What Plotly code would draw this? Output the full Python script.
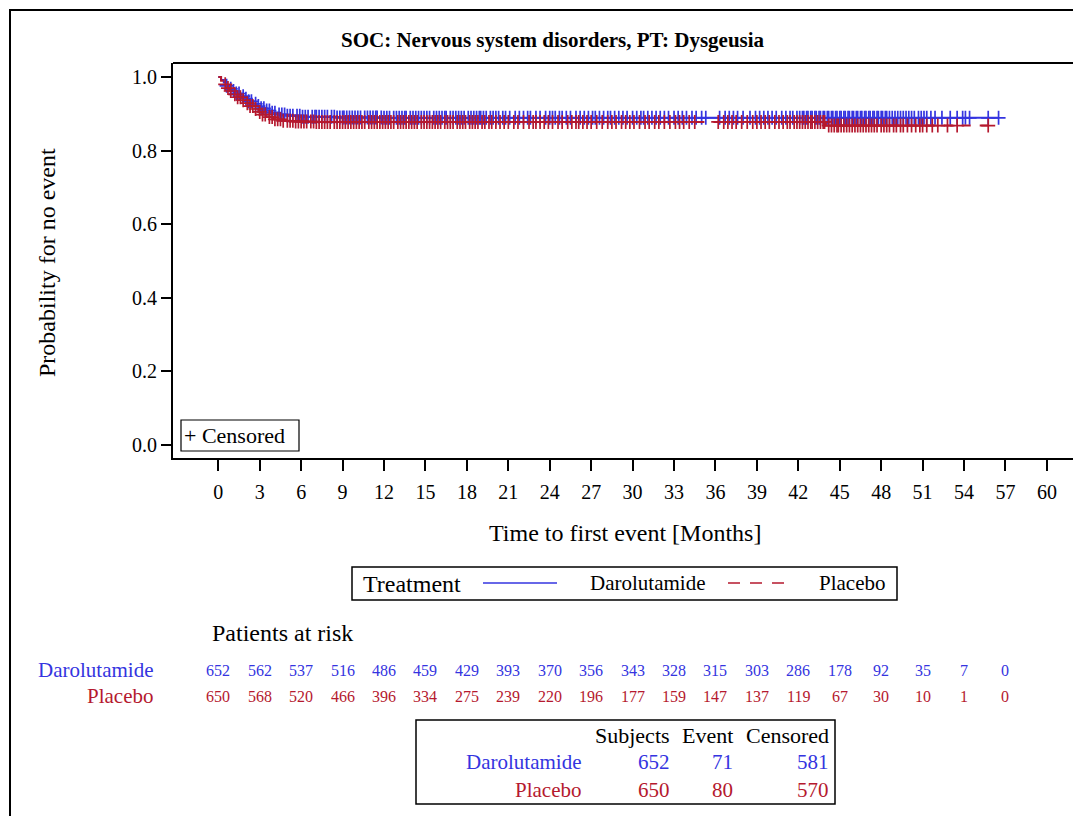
import plotly.graph_objects as go

W, H = 1073, 816
FONT = "'Liberation Serif', 'Times New Roman', Times, serif"
BLUE = "#3434E0"
RED = "#B5192E"

# Kaplan-Meier step points (time in months, probability for no event)
daro_event_t = [0, 0.2, 0.4, 0.6, 0.8, 1.0, 1.3, 1.6, 1.9, 2.2, 2.5, 2.8, 3.1, 3.4, 3.8, 4.3, 5.0, 6.0, 8.5, 12.0]
daro_surv = [1.0, 0.992, 0.985, 0.976, 0.968, 0.962, 0.955, 0.948, 0.941, 0.934, 0.927, 0.921, 0.915, 0.909, 0.903, 0.898, 0.895, 0.892, 0.890, 0.889]
plac_event_t = [0, 0.2, 0.4, 0.6, 0.8, 1.1, 1.4, 1.7, 2.0, 2.3, 2.6, 2.9, 3.2, 3.6, 4.0, 4.6, 5.5, 7.0, 44.0]
plac_surv = [1.0, 0.990, 0.980, 0.970, 0.962, 0.953, 0.945, 0.937, 0.929, 0.921, 0.913, 0.905, 0.898, 0.891, 0.885, 0.881, 0.879, 0.878, 0.868]

# Censoring times (months)
daro_cens = [0.6, 0.9, 1.1, 1.3, 1.5, 1.8, 2.0, 2.2, 2.4, 2.7, 2.9, 3.1, 3.3, 3.5, 3.7, 3.9, 4.1, 4.4, 4.6, 4.8,
             5.0, 5.2, 5.4, 5.7, 5.9, 6.1, 6.3, 6.5, 6.8, 7.0, 7.1, 7.3, 7.5, 7.7, 7.9, 8.2, 8.4, 8.6, 8.8, 9.0,
             9.1, 9.3, 9.5, 9.7, 9.9, 10.1, 10.3, 10.6, 10.8, 11.0, 11.2, 11.4, 11.5, 11.8, 12.0, 12.2, 12.4,
             12.7, 12.9, 13.1, 13.3, 13.5, 13.6, 13.9, 14.1, 14.3, 14.5, 14.7, 14.9, 15.1, 15.3, 15.6, 15.8,
             16.0, 16.2, 16.4, 16.5, 16.8, 17.0, 17.2, 17.4, 17.6, 17.8, 18.1, 18.3, 18.5, 18.7, 18.9, 19.0,
             19.2, 19.4, 19.7, 19.9, 20.1, 20.3, 20.6, 20.8, 21.1, 21.5, 21.8, 22.1, 22.4, 22.6, 23.0, 23.3,
             23.7, 24.0, 24.2, 24.4, 24.7, 24.9, 25.2, 25.5, 25.9, 26.2, 26.5, 26.8, 27.1, 27.3, 27.6, 27.9,
             28.2, 28.4, 28.7, 29.0, 29.3, 29.6, 30.0, 30.3, 30.6, 30.8, 31.1, 31.4, 31.7, 32.0, 32.3, 32.6,
             33.0, 33.3, 33.6, 33.9, 34.3, 34.6, 35.0, 35.3, 36.3, 36.7, 37.0, 37.3, 37.6, 38.0, 38.5, 38.9,
             39.2, 39.5, 39.8, 40.1, 40.4, 40.8, 41.1, 41.4, 41.6, 41.9, 42.1, 42.3, 42.4, 42.6, 42.7, 42.9,
             43.0, 43.2, 43.3, 43.5, 43.6, 43.8, 43.9, 44.1, 44.2, 44.4, 44.5, 44.7, 44.8, 45.0, 45.1, 45.3,
             45.4, 45.6, 45.7, 45.9, 46.0, 46.2, 46.3, 46.5, 46.6, 46.8, 46.9, 47.1, 47.2, 47.4, 47.5, 47.7,
             47.8, 48.0, 48.1, 48.3, 48.4, 48.6, 48.8, 49.0, 49.2, 49.4, 49.6, 49.8, 50.0, 50.2, 50.4, 50.7,
             50.9, 51.1, 51.3, 51.6, 51.9, 52.4, 53.0, 53.5, 53.9, 54.1, 54.4, 55.75, 56.5]
plac_cens = [0.5, 0.7, 0.9, 1.2, 1.4, 1.6, 1.8, 2.1, 2.3, 2.5, 2.7, 3.0, 3.2, 3.4, 3.7, 3.9, 4.1, 4.3, 4.5, 4.7,
             5.0, 5.2, 5.4, 5.6, 5.8, 6.0, 6.2, 6.4, 6.7, 6.9, 7.1, 7.3, 7.5, 7.7, 7.9, 8.1, 8.4, 8.6, 8.8, 9.0,
             9.2, 9.4, 9.6, 9.8, 10.0, 10.2, 10.4, 10.6, 10.9, 11.1, 11.3, 11.5, 11.7, 11.9, 12.1, 12.3, 12.5,
             12.7, 13.0, 13.2, 13.4, 13.6, 13.8, 14.0, 14.2, 14.4, 14.7, 14.9, 15.1, 15.3, 15.5, 15.7, 15.9,
             16.1, 16.4, 16.6, 16.8, 17.0, 17.3, 17.5, 17.7, 17.9, 18.2, 18.4, 18.6, 18.8, 19.1, 19.3, 19.6,
             19.8, 20.1, 20.4, 20.7, 21.0, 21.4, 21.7, 22.1, 22.5, 22.8, 23.0, 23.3, 23.6, 23.9, 24.2, 24.6,
             24.9, 25.3, 25.6, 25.9, 26.1, 26.4, 26.7, 27.0, 27.4, 27.8, 28.2, 28.5, 28.8, 29.2, 29.5, 29.8,
             30.1, 30.5, 30.9, 31.2, 31.6, 31.9, 32.3, 32.7, 33.1, 33.4, 33.7, 34.1, 34.5, 36.2, 36.6, 36.9,
             37.2, 37.5, 37.9, 38.3, 38.7, 39.0, 39.3, 39.6, 39.9, 40.3, 40.6, 40.9, 41.2, 41.4, 41.7, 41.9,
             42.1, 42.3, 42.5, 42.7, 42.9, 43.0, 43.2, 43.4, 43.6, 43.8, 43.9, 44.2, 44.4, 44.6, 44.8, 44.9,
             45.1, 45.3, 45.5, 45.7, 45.9, 46.1, 46.3, 46.5, 46.7, 46.9, 47.1, 47.3, 47.5, 47.7, 48.0, 48.2,
             48.4, 48.6, 48.9, 49.1, 49.4, 49.6, 49.9, 50.2, 50.5, 50.8, 51.0, 51.3, 51.7, 52.1, 52.8, 53.5,
             55.75]

# Patients at risk
risk_months = list(range(0, 58, 3))
daro_risk = [652, 562, 537, 516, 486, 459, 429, 393, 370, 356, 343, 328, 315, 303, 286, 178, 92, 35, 7, 0]
plac_risk = [650, 568, 520, 466, 396, 334, 275, 239, 220, 196, 177, 159, 147, 137, 119, 67, 30, 10, 1, 0]

# Summary counts
summary_groups = ["Darolutamide", "Placebo"]
summary_subjects = [652, 650]
summary_events = [71, 80]
summary_censored = [581, 570]

x_ticks = list(range(0, 61, 3))
y_ticks = [0.0, 0.2, 0.4, 0.6, 0.8, 1.0]


def px(x):
    return x / W


def py(y):
    return 1 - y / H


def step_value(times, surv, t):
    val = surv[0]
    for ti, si in zip(times, surv):
        if ti <= t:
            val = si
    return val


fig = go.Figure()

for name, et, sv, cens, color, dash in [
    ("Darolutamide", daro_event_t, daro_surv, daro_cens, BLUE, "solid"),
    ("Placebo", plac_event_t, plac_surv, plac_cens, RED, "dash"),
]:
    end_t = max(cens)
    fig.add_trace(go.Scatter(
        x=et + [end_t], y=sv + [sv[-1]], mode="lines", line_shape="hv",
        line=dict(color=color, width=2, dash=dash), showlegend=False, hoverinfo="skip"))
    fig.add_trace(go.Scatter(
        x=cens, y=[step_value(et, sv, t) for t in cens], mode="markers",
        marker=dict(symbol="cross-thin", size=10, line=dict(width=1.7, color=color)),
        showlegend=False, hoverinfo="skip"))

# pixel geometry of the plot box
X0_PX, XM_PX = 218.3, 13.81
Y0_PX, YU_PX = 445.0, 368.0
left_px, right_px, top_px, bottom_px = 173, 1073, 63, 458

fig.update_xaxes(
    domain=[px(left_px), px(right_px)],
    range=[(left_px - X0_PX) / XM_PX, (right_px - X0_PX) / XM_PX],
    tickvals=x_ticks, ticks="outside", ticklen=11, tickwidth=2, tickcolor="black",
    showline=True, linewidth=2, linecolor="black", showgrid=False, zeroline=False,
    ticklabelstandoff=4,
    tickfont=dict(family=FONT, size=20, color="black"),
)
fig.update_yaxes(
    domain=[py(bottom_px), py(top_px)],
    range=[(Y0_PX - bottom_px) / YU_PX, (Y0_PX - top_px) / YU_PX],
    tickvals=y_ticks, ticktext=[f"{v:.1f}" for v in y_ticks],
    ticks="outside", ticklen=10, tickwidth=2, tickcolor="black",
    showline=True, linewidth=2, linecolor="black", showgrid=False, zeroline=False,
    tickfont=dict(family=FONT, size=20, color="black"),
)

shapes = []
# outer frame (left and top)
shapes.append(dict(type="line", xref="paper", yref="paper", x0=px(10), x1=px(10), y0=py(9), y1=py(H),
                   line=dict(color="black", width=2)))
shapes.append(dict(type="line", xref="paper", yref="paper", x0=px(9), x1=px(W), y0=py(10), y1=py(10),
                   line=dict(color="black", width=2)))
# top edge of the plot box
shapes.append(dict(type="line", xref="paper", yref="paper", x0=px(left_px), x1=px(right_px),
                   y0=py(top_px), y1=py(top_px), line=dict(color="black", width=2)))
# censored key box
shapes.append(dict(type="rect", xref="paper", yref="paper", x0=px(181), x1=px(299), y0=py(420), y1=py(451),
                   line=dict(color="black", width=1.2)))
# treatment legend box
shapes.append(dict(type="rect", xref="paper", yref="paper", x0=px(352), x1=px(897), y0=py(567), y1=py(600),
                   line=dict(color="black", width=1.5)))
shapes.append(dict(type="line", xref="paper", yref="paper", x0=px(483), x1=px(557), y0=py(583), y1=py(583),
                   line=dict(color=BLUE, width=1.5)))
shapes.append(dict(type="line", xref="paper", yref="paper", x0=px(728), x1=px(785), y0=py(583), y1=py(583),
                   line=dict(color=RED, width=1.5, dash="12px,10px")))
# summary table box
shapes.append(dict(type="rect", xref="paper", yref="paper", x0=px(416), x1=px(835), y0=py(720), y1=py(804),
                   line=dict(color="black", width=1.5)))

ann = []


def text(x, y, s, size, color="black", xanchor="center", bold=False, angle=0):
    ann.append(dict(xref="paper", yref="paper", x=px(x), y=py(y), text=f"<b>{s}</b>" if bold else s,
                    showarrow=False, xanchor=xanchor, yanchor="middle", textangle=angle,
                    font=dict(family=FONT, size=size, color=color)))


text(553, 40, "SOC: Nervous system disorders, PT: Dysgeusia", 21, bold=True)
text(47, 263, "Probability for no event", 24, angle=-90)
text(625, 533, "Time to first event [Months]", 24)
text(182, 435, "+ Censored", 22, xanchor="left")
text(361, 584, "Treatment", 24, xanchor="left")
text(588, 583, "Darolutamide", 21, xanchor="left")
text(817, 583, "Placebo", 21, xanchor="left")
text(210, 633, "Patients at risk", 24, xanchor="left")
text(155, 670, "Darolutamide", 21, BLUE, xanchor="right")
text(155, 696, "Placebo", 21, RED, xanchor="right")
for m, d, p in zip(risk_months, daro_risk, plac_risk):
    xm = X0_PX + m * XM_PX
    text(xm, 670, str(d), 16, BLUE)
    text(xm, 696, str(p), 16, RED)

text(672, 735, "Subjects", 22, xanchor="right")
text(735, 735, "Event", 22, xanchor="right")
text(831, 735, "Censored", 22, xanchor="right")
for i, (g, color) in enumerate(zip(summary_groups, [BLUE, RED])):
    yy = 762 + i * 28
    text(583, yy, g, 21, color, xanchor="right")
    text(672, yy, str(summary_subjects[i]), 21, color, xanchor="right")
    text(735, yy, str(summary_events[i]), 21, color, xanchor="right")
    text(831, yy, str(summary_censored[i]), 21, color, xanchor="right")

fig.update_layout(
    width=W, height=H, margin=dict(l=0, r=0, t=0, b=0),
    paper_bgcolor="white", plot_bgcolor="white",
    shapes=shapes, annotations=ann, showlegend=False,
)

fig.write_html("out.html")
